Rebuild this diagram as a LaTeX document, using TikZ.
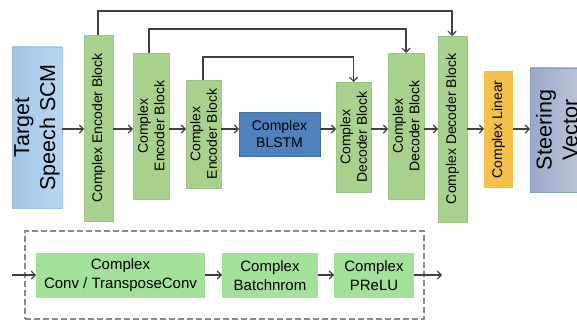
\documentclass[tikz,border=0pt]{standalone}
\usepackage{fontspec}
\setmainfont{Liberation Sans}
\usetikzlibrary{arrows.meta}
\definecolor{gfill}{HTML}{A9D18E}
\definecolor{gline}{HTML}{9CC482}
\definecolor{bgfill}{HTML}{A3E09A}
\definecolor{tleft}{HTML}{A2C6E8}
\definecolor{tright}{HTML}{B9D6F0}
\definecolor{tline}{HTML}{9DC3E6}
\definecolor{bfill}{HTML}{4F81BD}
\definecolor{bline}{HTML}{41719C}
\definecolor{yfill}{HTML}{F5C04A}
\definecolor{sleft}{HTML}{9AA8CC}
\definecolor{sright}{HTML}{C2C8D8}
\definecolor{sline}{HTML}{8C9CC0}
\definecolor{aline}{HTML}{404040}
\definecolor{dline}{HTML}{8A8A8A}
\begin{document}
\begin{tikzpicture}[x=1pt,y=-1pt,
  box/.style={inner sep=0pt, outer sep=0pt, line width=0.6pt},
  gbox/.style={box, draw=gline, fill=gfill},
  bgbox/.style={box, draw=none, fill=bgfill, align=center, font=\fontsize{15}{19}\selectfont},
  vlab/.style={rotate=90, align=center, inner sep=0pt, font=\fontsize{14}{16.5}\selectfont},
  biglab/.style={rotate=90, align=center, inner sep=0pt, font=\fontsize{21.5}{26}\selectfont},
  arr/.style={draw=aline, line width=1.1pt, -{Straight Barb[length=4pt,width=8pt,line width=1.1pt]}},
  skip/.style={draw=aline, line width=1.1pt, -{Straight Barb[length=4pt,width=8pt,line width=1.1pt]}},
]
\useasboundingbox (0,0) rectangle (577,320);
% main row boxes
\node[box, draw=tline, left color=tleft, right color=tright, minimum width=50pt, minimum height=161pt] (tgt) at (37,127.5) {};
\node[gbox, minimum width=29pt, minimum height=186pt] (enc1) at (98.5,128) {};
\node[gbox, minimum width=36pt, minimum height=146pt] (enc2) at (151,126) {};
\node[gbox, minimum width=35pt, minimum height=108pt] (enc3) at (203.5,134) {};
\node[box, draw=bline, fill=bfill, minimum width=81pt, minimum height=44pt, align=center, font=\fontsize{14}{16.5}\selectfont] (lstm) at (279.5,134) {Complex\\BLSTM};
\node[gbox, minimum width=35pt, minimum height=110pt] (dec1) at (353.5,137) {};
\node[gbox, minimum width=36pt, minimum height=146pt] (dec2) at (406,126) {};
\node[gbox, minimum width=29pt, minimum height=186pt] (dec3) at (452.5,129) {};
\node[box, draw=none, fill=yfill, minimum width=29pt, minimum height=117pt] (lin) at (498.5,129.5) {};
\node[box, draw=sline, left color=sleft, right color=sright, minimum width=56pt, minimum height=124pt] (stv) at (558,130) {};
% labels
\node[biglab] (tgtt) at (tgt.center) {Target\\Speech SCM};
\node[vlab] (enc1t) at (enc1.center) {Complex Encoder Block};
\node[vlab] (enc2t) at (enc2.center) {Complex\\Encoder Block};
\node[vlab] (enc3t) at (enc3.center) {Complex\\Encoder Block};
\node[vlab] (dec1t) at (dec1.center) {Complex\\Decoder Block};
\node[vlab] (dec2t) at (dec2.center) {Complex\\Decoder Block};
\node[vlab] (dec3t) at (dec3.center) {Complex Decoder Block};
\node[vlab] (lint) at (lin.center) {Complex Linear};
\node[biglab, anchor=center] (stvt) at (557,130) {Steering\\Vector};
% main arrows
\coordinate (ax) at (0,129);
\draw[arr] (tgt.east |- ax) -- (enc1.west |- ax);
\draw[arr] (enc1.east |- ax) -- (enc2.west |- ax);
\draw[arr] (enc2.east |- ax) -- (enc3.west |- ax);
\draw[arr] (enc3.east |- ax) -- (lstm.west |- ax);
\draw[arr] (lstm.east |- ax) -- (dec1.west |- ax);
\draw[arr] (dec1.east |- ax) -- (dec2.west |- ax);
\draw[arr] (dec2.east |- ax) -- (dec3.west |- ax);
\draw[arr] (dec3.east |- ax) -- (lin.west |- ax);
\draw[arr] (lin.east |- ax) -- (stv.west |- ax);
% skip connections
\draw[skip] ([xshift=-0.5pt]enc1.north) -- ++(0,-24) -| ([xshift=-0.5pt]dec3.north);
\draw[skip] ([xshift=-2pt]enc2.north) -- ++(0,-24) -| (dec2.north);
\draw[skip] ([xshift=-0.5pt]enc3.north) -- ++(0,-23) -| (dec1.north);
% bottom legend
\node[draw=dline, dashed, dash pattern=on 6pt off 3pt, line width=1.4pt, inner sep=0pt, minimum width=399pt, minimum height=88pt] (leg) at (224.5,275) {};
\node[bgbox, minimum width=169pt, minimum height=45pt] (conv) at (120.5,275.5) {Complex\\Conv / TransposeConv};
\node[bgbox, minimum width=96pt, minimum height=45pt] (bn) at (270,275.5) {Complex\\Batchnrom};
\node[bgbox, minimum width=80pt, minimum height=45pt] (prelu) at (374,275.5) {Complex\\PReLU};
\coordinate (lin0) at (12,275);
\coordinate (lout) at (442,275);
\draw[arr] (lin0) -- (conv.west |- lin0);
\draw[arr] (conv.east |- lin0) -- (bn.west |- lin0);
\draw[arr] (bn.east |- lin0) -- (prelu.west |- lin0);
\draw[arr] (prelu.east |- lout) -- (lout);
\end{tikzpicture}
\end{document}
